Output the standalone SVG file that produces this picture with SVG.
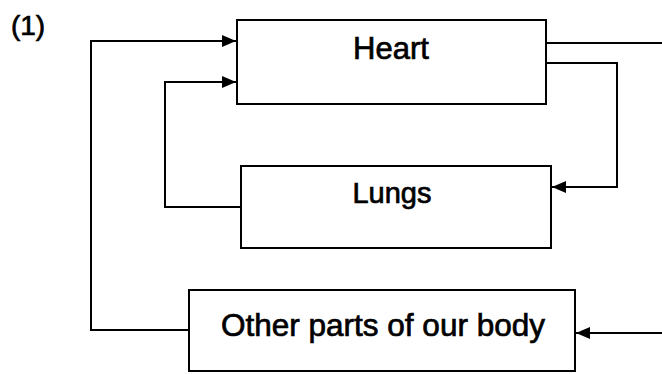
<svg xmlns="http://www.w3.org/2000/svg" width="662" height="374" viewBox="0 0 662 374">
<style>
.box{fill:#fff;stroke:#000;stroke-width:2}
.ln{fill:none;stroke:#000;stroke-width:2}
.t{font-family:"Liberation Sans",Arial,sans-serif;fill:#000;stroke:#000;stroke-width:0.7;text-anchor:middle}
</style>
<defs>
<marker id="ah" viewBox="0 0 14 12" refX="14" refY="6" markerWidth="14" markerHeight="12" markerUnits="userSpaceOnUse" orient="auto">
<path d="M0,0 L14,6 L0,12 Z" fill="#000"/>
</marker>
</defs>
<rect width="662" height="374" fill="#fff"/>
<text class="t" x="28" y="35" font-size="28">(1)</text>
<g id="connectors">
<polyline class="ln" points="189,330 91,330 91,41 236,41" marker-end="url(#ah)"/>
<polyline class="ln" points="241,207 165,207 165,82 236,82" marker-end="url(#ah)"/>
<line class="ln" x1="546" y1="43" x2="662" y2="43"/>
<polyline class="ln" points="546,63 617,63 617,187 552,187" marker-end="url(#ah)"/>
<line class="ln" x1="662" y1="333" x2="576" y2="333" marker-end="url(#ah)"/>
</g>
<g id="heart">
<rect class="box" x="237" y="20" width="309" height="84"/>
<text class="t" x="391" y="59" font-size="31">Heart</text>
</g>
<g id="lungs">
<rect class="box" x="241" y="166" width="310" height="82"/>
<text class="t" x="392" y="203" font-size="29">Lungs</text>
</g>
<g id="other">
<rect class="box" x="189" y="290" width="386" height="81"/>
<text class="t" x="383" y="336" font-size="31.5">Other parts of our body</text>
</g>
</svg>
